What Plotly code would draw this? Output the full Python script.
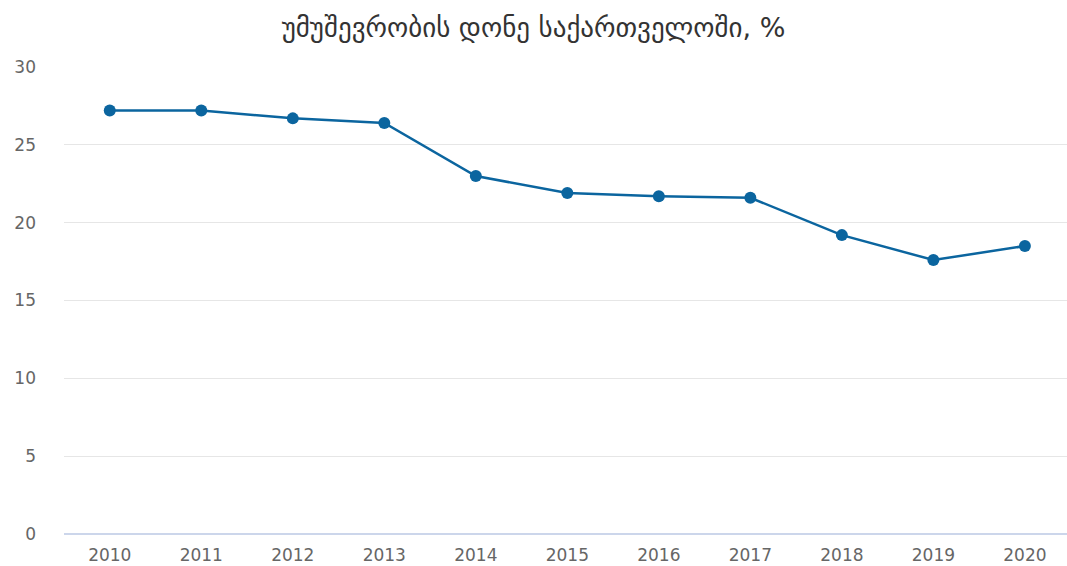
import plotly.graph_objects as go

# Unemployment rate in Georgia, %
years = ["2010", "2011", "2012", "2013", "2014", "2015", "2016", "2017", "2018", "2019", "2020"]
rate = [27.2, 27.2, 26.7, 26.4, 23.0, 21.9, 21.7, 21.6, 19.2, 17.6, 18.5]
y_ticks = [0, 5, 10, 15, 20, 25, 30]

line_color = "#0b659f"

fig = go.Figure(
    go.Scatter(
        x=years,
        y=rate,
        mode="lines+markers",
        line=dict(color=line_color, width=2.5),
        marker=dict(color=line_color, size=12),
        hoverinfo="x+y",
    )
)

fig.update_layout(
    width=1067,
    height=566,
    margin=dict(l=64, r=0, t=67, b=32),
    paper_bgcolor="white",
    plot_bgcolor="white",
    showlegend=False,
    font=dict(family="DejaVu Sans", color="#666666", size=17),
    title=dict(
        text="უმუშევრობის დონე საქართველოში, %",
        x=0.5,
        xanchor="center",
        y=0.952,
        yanchor="middle",
        font=dict(family="DejaVu Sans", size=27, color="#333333"),
    ),
    xaxis=dict(
        type="category",
        range=[-0.5, 10.46],
        showgrid=False,
        showline=False,
        zeroline=False,
        ticks="",
        ticklabelstandoff=9,
    ),
    yaxis=dict(
        range=[0, 30],
        tickvals=y_ticks,
        showgrid=True,
        gridcolor="#e6e6e6",
        gridwidth=1,
        zeroline=True,
        zerolinecolor="#ccd6eb",
        zerolinewidth=2,
        showline=False,
        ticks="",
        ticklabelstandoff=27,
    ),
)

fig.write_html("out.html")
